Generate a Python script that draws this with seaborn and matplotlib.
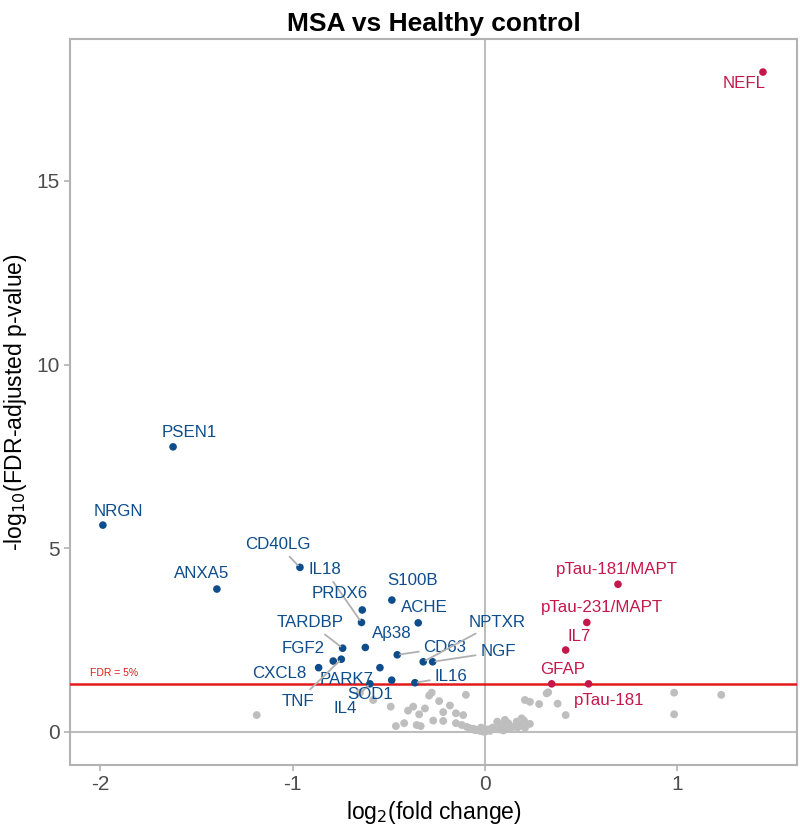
import numpy as np
import pandas as pd
import matplotlib
matplotlib.use("Agg")
from matplotlib import pyplot as plt
import seaborn as sns

# significant proteins (log2FC, -log10 FDR)
sig_names = ['NEFL', 'PSEN1', 'NRGN', 'ANXA5', 'CD40LG', 'IL18', 'PRDX6', 'S100B',
             'ACHE', 'TARDBP', 'Aβ38', 'FGF2', 'CXCL8', 'PARK7', 'TNF', 'IL4',
             'SOD1', 'IL16', 'CD63', 'NPTXR', 'NGF',
             'pTau-181/MAPT', 'pTau-231/MAPT', 'IL7', 'GFAP', 'pTau-181']
sig_lfc = [1.446, -1.622, -1.987, -1.394, -0.962, -0.642, -0.638, -0.484,
           -0.347, -0.740, -0.622, -0.789, -0.865, -0.546, -0.747, -0.598,
           -0.485, -0.364, -0.456, -0.321, -0.272,
           0.692, 0.530, 0.420, 0.347, 0.539]
sig_fdr = [17.96, 7.76, 5.63, 3.89, 4.48, 2.98, 3.32, 3.59,
           2.97, 2.28, 2.30, 1.93, 1.75, 1.75, 1.98, 1.31,
           1.41, 1.34, 2.10, 1.91, 1.91,
           4.02, 2.98, 2.23, 1.31, 1.31]

# non-significant proteins
ns_lfc = [-1.187, -0.650, -0.581, -0.490, -0.463, -0.420, -0.400, -0.373, -0.355, -0.342,
          -0.334, -0.312, -0.290, -0.277, -0.269, -0.238, -0.217, -0.217, -0.182, -0.151,
          -0.151, -0.121, -0.113, -0.099, -0.095, -0.078, -0.052, -0.026, -0.009, 0.026,
          0.052, 0.064, 0.082, 0.104, 0.121, 0.147, 0.165, 0.191, 0.203, 0.234,
          0.208, 0.208, 0.234, 0.282, 0.321, 0.329, 0.378, 0.420, 0.984, 0.984,
          1.229, -0.060, -0.035, 0.005, 0.015, 0.040, 0.075, 0.095, 0.130, 0.170,
          0.180, 0.110, -0.020]
ns_fdr = [0.46, 1.07, 0.87, 0.69, 0.16, 0.24, 0.58, 0.69, 0.19, 0.48,
          0.16, 0.64, 0.99, 1.07, 0.31, 0.84, 0.54, 0.30, 0.72, 0.51,
          0.24, 0.19, 0.46, 1.01, 0.14, 0.10, 0.05, 0.03, 0.01, 0.03,
          0.08, 0.28, 0.19, 0.33, 0.24, 0.14, 0.28, 0.37, 0.31, 0.22,
          0.11, 0.87, 0.82, 0.76, 1.05, 1.08, 0.77, 0.46, 1.07, 0.48,
          1.01, 0.09, 0.06, 0.02, 0.07, 0.12, 0.07, 0.04, 0.08, 0.12,
          0.20, 0.15, 0.12]

fdr_cut = -np.log10(0.05)

# label placement (text centre) and whether a leader segment is drawn
label_pos = {
    'NEFL': (1.347, 17.66, False), 'PSEN1': (-1.539, 8.14, False),
    'NRGN': (-1.908, 6.01, False), 'ANXA5': (-1.472, 4.30, False),
    'CD40LG': (-1.076, 5.09, True), 'IL18': (-0.832, 4.41, True),
    'PRDX6': (-0.754, 3.76, False), 'S100B': (-0.374, 4.11, False),
    'ACHE': (-0.317, 3.40, False), 'TARDBP': (-0.910, 2.97, True),
    'Aβ38': (-0.484, 2.67, False), 'FGF2': (-0.946, 2.26, False),
    'CXCL8': (-1.071, 1.58, False), 'PARK7': (-0.718, 1.44, False),
    'TNF': (-0.972, 0.84, True), 'IL4': (-0.728, 0.65, True),
    'SOD1': (-0.598, 1.03, False), 'IL16': (-0.177, 1.50, True),
    'CD63': (-0.208, 2.29, True), 'NPTXR': (0.062, 2.99, True),
    'NGF': (0.068, 2.18, True),
    'pTau-181/MAPT': (0.686, 4.41, False), 'pTau-231/MAPT': (0.608, 3.40, False),
    'IL7': (0.489, 2.59, False), 'GFAP': (0.406, 1.69, False),
    'pTau-181': (0.645, 0.87, False),
}

blue = '#0E4D8C'
red = '#C4184B'
grey = '#BEBEBE'
line_grey = '#BDBDBD'
lab_size = 12.2

df_sig = pd.DataFrame({'protein': sig_names, 'lfc': sig_lfc, 'fdr': sig_fdr})
df_sig['dir'] = np.where(df_sig['lfc'] > 0, 'up', 'down')
df_ns = pd.DataFrame({'lfc': ns_lfc, 'fdr': ns_fdr})

sns.set_theme(style='white')
plt.rcParams['font.family'] = ['Liberation Sans', 'DejaVu Sans']
plt.rcParams['axes.unicode_minus'] = False

fig, ax = plt.subplots(figsize=(8, 8.26), dpi=100)
fig.subplots_adjust(left=0.0875, right=0.996, top=0.9528, bottom=0.0738)

ax.axvline(0, color=line_grey, lw=1.5, zorder=1)
ax.axhline(0, color=line_grey, lw=1.5, zorder=1)

sns.scatterplot(data=df_ns, x='lfc', y='fdr', color=grey, s=32, edgecolor='none',
                ax=ax, zorder=2, legend=False)
ax.axhline(fdr_cut, color='#E31A1C', lw=1.8, zorder=3)
sns.scatterplot(data=df_sig, x='lfc', y='fdr', hue='dir',
                palette={'up': red, 'down': blue}, s=30, edgecolor='none',
                ax=ax, zorder=4, legend=False)

for name, x, y in zip(sig_names, sig_lfc, sig_fdr):
    tx, ty, seg = label_pos[name]
    c = red if x > 0 else blue
    if seg:
        ax.annotate(name, xy=(x, y), xytext=(tx, ty), color=c, fontsize=lab_size,
                    ha='center', va='center', zorder=5,
                    arrowprops=dict(arrowstyle='-', color='#B0B0B0', lw=1.3,
                                    shrinkA=1, shrinkB=2))
    else:
        ax.text(tx, ty, name, color=c, fontsize=lab_size, ha='center', va='center', zorder=5)

ax.text(-2.054, fdr_cut + 0.17, 'FDR = 5%', color='#E31A1C', fontsize=7.5,
        ha='left', va='bottom')

ax.set_xlim(-2.158, 1.622)
ax.set_ylim(-0.9, 18.86)
ax.set_xticks([-2, -1, 0, 1])
ax.set_yticks([0, 5, 10, 15])
ax.tick_params(axis='both', colors='#B3B3B3', labelcolor='#4D4D4D', labelsize=15,
               length=4, width=1.2, direction='out', bottom=True, left=True)
for sp in ax.spines.values():
    sp.set_color('#B3B3B3')
    sp.set_linewidth(1.5)

ax.set_xlabel(r'log$_2$(fold change)', fontsize=16.5, color='black', labelpad=3)
ax.set_ylabel(r'-log$_{10}$(FDR-adjusted p-value)', fontsize=16.5, color='black', labelpad=5)
ax.set_title('MSA vs Healthy control', fontsize=19, fontweight='bold', color='black', pad=6)

plt.savefig('out.png', dpi=100)
plt.close()
